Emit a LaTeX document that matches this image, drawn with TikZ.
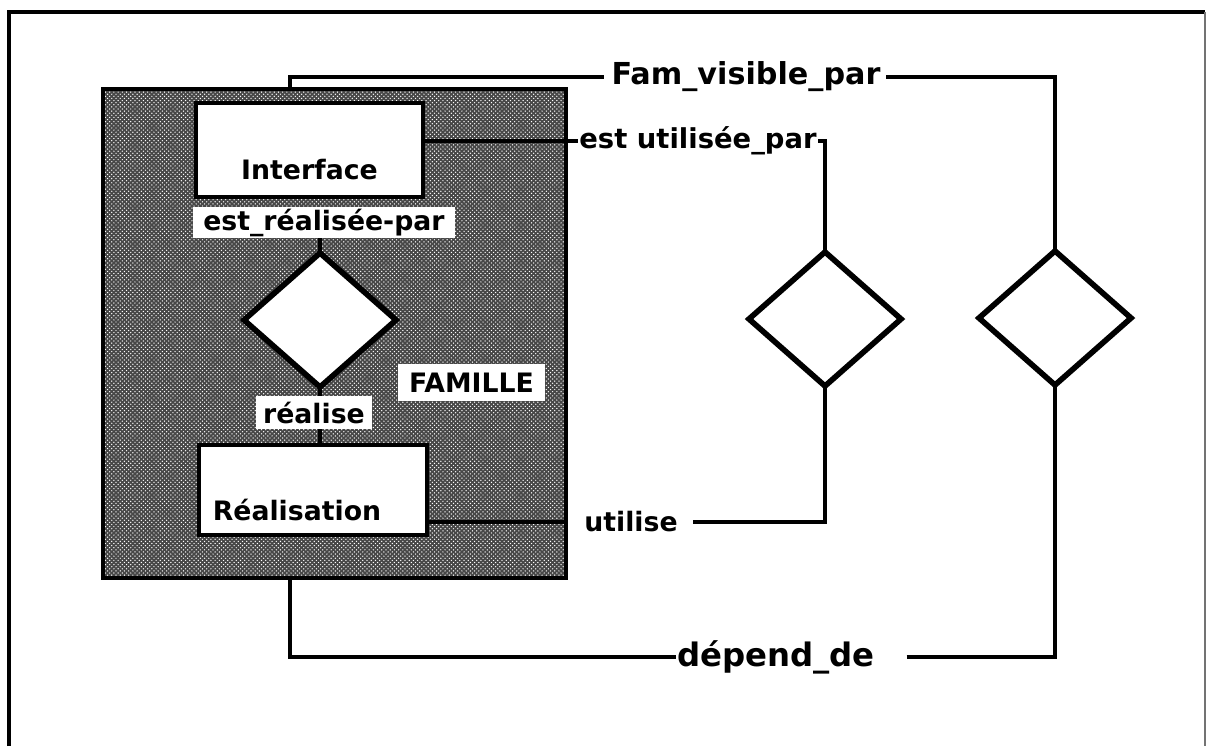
\documentclass[tikz,border=0pt]{standalone}
\usepackage{fontspec}
\setmainfont{DejaVu Sans}
\usetikzlibrary{shapes.geometric,patterns,calc}

\begin{document}
\begin{tikzpicture}[x=0.025cm, y=-0.025cm,
    lbl/.style={font=\bfseries\fontsize{19}{22}\selectfont, inner sep=1pt},
    tag/.style={lbl, fill=white, inner xsep=3pt, inner ysep=0pt},
    entity/.style={draw=black, line width=3pt, fill=white, inner sep=0pt, outer sep=0pt},
    rel/.style={diamond, draw=black, line width=4pt, fill=white, inner sep=0pt, outer sep=0pt,
                minimum width=3.8cm, minimum height=3.35cm},
    link/.style={line width=2.6pt}]

\useasboundingbox (0,0) rectangle (1208,746);

% Frame
\draw[line width=3pt] (9,746) -- (9,12) -- (1205,12);
\draw[line width=1pt, black!55] (1205,12) -- (1205,746);

% Family box (shaded)
\coordinate (famNW) at (103,89);
\coordinate (famSE) at (566,578);
\fill[black!72] (famNW) rectangle (famSE);
\fill[pattern=crosshatch dots, pattern color=white] (famNW) rectangle (famSE);
\draw[line width=3.5pt] (famNW) rectangle (famSE);
\coordinate (famtop) at (290,89);
\coordinate (fambot) at (290,578);

% Entities
\node[entity, minimum width=5.675cm, minimum height=2.35cm,
      label={[lbl, yshift=-0.5cm]center:Interface}] (interface) at (309.5,150) {};
\node[entity, minimum width=5.7cm, minimum height=2.25cm,
      label={[lbl, xshift=-0.4cm, yshift=-0.5cm]center:Réalisation}] (realisation) at (313,490) {};

% Inner relation and roles
\node[tag, minimum width=6.55cm, minimum height=0.775cm] (estreal) at (324,222.5) {est\_réalisée-par};
\node[rel] (rel1) at (320,320) {};
\node[tag, minimum width=2.9cm, minimum height=0.825cm] (realise) at (314,412.5) {réalise};
\node[tag, minimum width=3.675cm, minimum height=0.925cm] (famille) at (471.5,382.5) {FAMILLE};

\draw[link] (rel1.north |- estreal.south) -- (rel1.north);
\draw[link] (rel1.south) -- (rel1.south |- realise.north);
\draw[link] (rel1.south |- realise.south) -- (rel1.south |- realisation.north);

% Outer relations
\node[rel] (rel2) at (825,319) {};
\node[rel] (rel3) at (1055,318) {};

% Role labels
\node[lbl, font=\bfseries\fontsize{19.5}{22}\selectfont] (estutil) at (698,141) {est utilisée\_par};
\node[lbl, font=\bfseries\fontsize{21.5}{24}\selectfont] (famvis) at (746,77) {Fam\_visible\_par};
\node[lbl] (utilise) at (631,522) {utilise};
\node[lbl, font=\bfseries\fontsize{23}{26}\selectfont] (depend) at (776,657) {dépend\_de};

% est utilisee par
\draw[link] (interface.east |- estutil.west) -- (estutil.west);
\draw[link] (estutil.east) -| (rel2.north);

% utilise
\draw[link] (realisation.east |- utilise.west) -- (famSE |- utilise.west);
\draw[link] (rel2.south) |- ($(utilise.east)+(14,0)$);

% Fam visible par
\draw[link] (famtop) |- ($(famvis.west)+(-6,0)$);
\draw[link] ($(famvis.east)+(4,0)$) -| (rel3.north);

% depend de
\draw[link] (fambot) |- (depend.west);
\draw[link] ($(depend.east)+(30,0)$) -| (rel3.south);

\end{tikzpicture}
\end{document}
